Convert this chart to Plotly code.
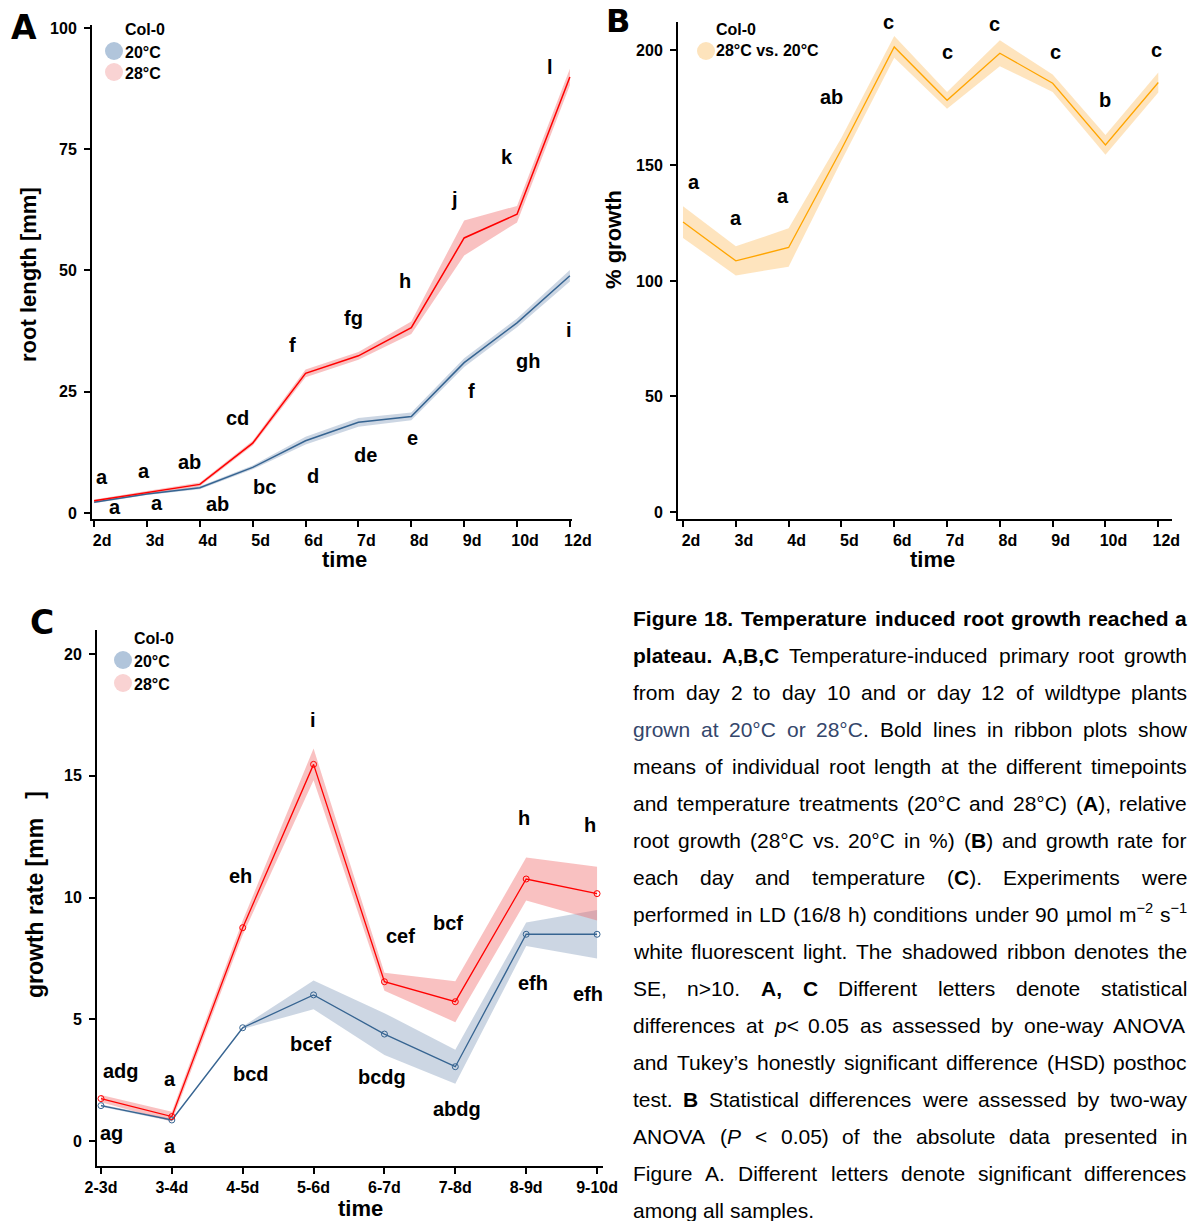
import plotly.graph_objects as go

W, H = 1188, 1221
FONT = "Liberation Sans, Arial, Helvetica, sans-serif"

# ---------------- data ----------------
days_a = ["2d", "3d", "4d", "5d", "6d", "7d", "8d", "9d", "10d", "12d"]
root_20 = [2.2, 3.9, 5.2, 9.4, 14.9, 18.7, 19.9, 31.0, 39.2, 48.9]
root_20_se = [0.2, 0.2, 0.3, 0.4, 0.8, 0.9, 0.8, 0.9, 0.9, 1.2]
root_28 = [2.5, 4.2, 5.9, 14.4, 28.8, 32.4, 38.2, 56.7, 61.6, 89.9]
root_28_se = [0.3, 0.3, 0.4, 0.5, 0.8, 0.8, 1.3, 3.6, 1.7, 1.7]
letters_a_28 = ["a", "a", "ab", "cd", "f", "fg", "h", "j", "k", "l"]
letters_a_20 = ["a", "a", "ab", "bc", "d", "de", "e", "f", "gh", "i"]

rel_growth = [125.5, 108.7, 114.5, 157.0, 201.3, 178.2, 198.6, 185.6, 158.9, 185.9]
rel_growth_se = [6.9, 6.3, 8.3, 5.0, 4.7, 3.6, 5.6, 3.8, 4.3, 4.3]
letters_b = ["a", "a", "a", "ab", "c", "c", "c", "c", "b", "c"]

intervals_c = ["2-3d", "3-4d", "4-5d", "5-6d", "6-7d", "7-8d", "8-9d", "9-10d"]
rate_20 = [1.45, 0.86, 4.65, 6.0, 4.39, 3.05, 8.49, 8.49]
rate_20_se = [0.05, 0.05, 0.05, 0.59, 0.86, 0.7, 0.48, 1.0]
rate_28 = [1.74, 1.0, 8.76, 15.47, 6.54, 5.72, 10.76, 10.16]
rate_28_se = [0.15, 0.2, 0.3, 0.65, 0.37, 0.84, 0.88, 1.1]
letters_c_28 = ["adg", "a", "eh", "i", "cef", "bcf", "h", "h"]
letters_c_20 = ["ag", "a", "bcd", "bcef", "bcdg", "abdg", "efh", "efh"]

# letter label pixel offsets from their data point (style/position only)
off_a_28 = [(8, 24), (-3, 22), (-10, 22), (-15, 25), (-13, 28), (-5, 38), (-6, 47), (-10, 39), (-10, 57), (-20, 10)]
off_a_20 = [(21, -5), (10, -9), (18, -16), (12, -20), (7, -35), (7, -33), (1, -22), (7, -28), (11, -38), (-1, -54)]
off_b = [(11, 40), (0, 43), (-6, 51), (-10, 52), (-6, 25), (0, 48), (-5, 29), (3, 31), (0, 45), (-2, 33)]
off_c_28 = [(20, 28), (-2, 38), (-2, 52), (-1, 44), (16, 46), (-7, 79), (-2, 61), (-7, 69)]
off_c_20 = [(11, -27), (-2, -26), (8, -46), (-3, -49), (-2, -43), (2, -42), (7, -49), (-9, -60)]

caption_lines = [
    [("Figure 18. Temperature induced root growth reached a", "b")],
    [("plateau. A,B,C", "b"), (" Temperature-induced primary root growth", "r")],
    [("from day 2 to day 10 and or day 12 of wildtype plants", "r")],
    [("grown at 20°C or 28°C", "c"), (".  Bold lines in ribbon plots show", "r")],
    [("means of individual root length at the different timepoints", "r")],
    [("and temperature treatments (20°C and 28°C) (", "r"), ("A", "b"), ("), relative", "r")],
    [("root growth (28°C vs. 20°C in %) (", "r"), ("B", "b"), (") and growth rate for", "r")],
    [("each day and temperature (", "r"), ("C", "b"), ("). Experiments were", "r")],
    [("performed in LD (16/8 h) conditions under 90 µmol m", "r"), ("−2", "sup"), (" s", "r"), ("−1", "sup")],
    [("white fluorescent light. The shadowed ribbon denotes the", "r")],
    [("SE, n>10. ", "r"), ("A, C", "b"), (" Different letters denote statistical", "r")],
    [("differences at ", "r"), ("p", "i"), ("< 0.05 as assessed by one-way ANOVA", "r")],
    [("and Tukey’s honestly significant difference (HSD) posthoc", "r")],
    [("test. ", "r"), ("B", "b"), (" Statistical differences were assessed by two-way", "r")],
    [("ANOVA (", "r"), ("P", "i"), (" < 0.05) of the absolute data presented in", "r")],
    [("Figure A. Different letters denote significant differences", "r")],
    [("among all samples.", "r")],
]

# ---------------- helpers ----------------
def pxx(p):
    return p / W


def pxy(p):
    return 1 - p / H


RED = "rgb(255,0,0)"
RED_FILL = "rgba(240,100,100,0.40)"
BLUE = "rgb(54,100,145)"
BLUE_FILL = "rgba(100,130,170,0.33)"
ORANGE = "rgb(255,165,0)"
ORANGE_FILL = "rgba(252,190,100,0.42)"

fig = go.Figure()


def ribbon(x, y, se, fill, xa, ya):
    up = [v + s for v, s in zip(y, se)]
    lo = [v - s for v, s in zip(y, se)]
    fig.add_trace(go.Scatter(x=list(x) + list(x)[::-1], y=up + lo[::-1], fill="toself",
                             fillcolor=fill, line=dict(width=0), mode="lines",
                             hoverinfo="skip", showlegend=False, xaxis=xa, yaxis=ya))


def line(x, y, color, xa, ya, width=1.5, markers=False):
    fig.add_trace(go.Scatter(x=x, y=y, mode="lines+markers" if markers else "lines",
                             line=dict(color=color, width=width),
                             marker=dict(symbol="circle-open", size=6, color=color,
                                         line=dict(width=1, color=color)),
                             hoverinfo="skip", showlegend=False, xaxis=xa, yaxis=ya))


# Panel A
ribbon(days_a, root_20, root_20_se, BLUE_FILL, "x", "y")
ribbon(days_a, root_28, root_28_se, RED_FILL, "x", "y")
line(days_a, root_20, BLUE, "x", "y")
line(days_a, root_28, RED, "x", "y")
# Panel B
ribbon(days_a, rel_growth, rel_growth_se, ORANGE_FILL, "x2", "y2")
line(days_a, rel_growth, ORANGE, "x2", "y2", width=1.3)
# Panel C
ribbon(intervals_c, rate_20, rate_20_se, BLUE_FILL, "x3", "y3")
ribbon(intervals_c, rate_28, rate_28_se, RED_FILL, "x3", "y3")
line(intervals_c, rate_20, BLUE, "x3", "y3", width=1.3, markers=True)
line(intervals_c, rate_28, RED, "x3", "y3", width=1.3, markers=True)


def axis(domain_px, rng, anchor, cats=None, tickvals=None, shift=0, horizontal=True):
    d = dict(showline=True, linecolor="black", linewidth=2, ticks="outside", ticklen=6,
             tickwidth=2, tickcolor="black", showgrid=False, zeroline=False,
             fixedrange=True, anchor=anchor, range=rng, automargin=False,
             tickfont=dict(family=FONT, size=16, color="black", weight="bold"))
    if horizontal:
        d["domain"] = [pxx(domain_px[0]), pxx(domain_px[1])]
        d["type"] = "category"
        d["categoryorder"] = "array"
        d["categoryarray"] = cats
        if shift:
            d["ticklabelshift"] = shift
    else:
        d["domain"] = [pxy(domain_px[1]), pxy(domain_px[0])]
        d["tickvals"] = tickvals
        d["ticklabelstandoff"] = 4
    return d


fig.update_layout(
    template="none",
    xaxis=axis((92, 572), [-0.04, 9.04], "y", cats=days_a, shift=8),
    yaxis=axis((25, 519), [-1.24, 100.6], "x", tickvals=[0, 25, 50, 75, 100], horizontal=False),
    xaxis2=axis((678, 1172), [-0.095, 9.26], "y2", cats=days_a, shift=8),
    yaxis2=axis((22, 519), [-3.03, 212.1], "x2", tickvals=[0, 50, 100, 150, 200], horizontal=False),
    xaxis3=axis((97, 603), [-0.056, 7.084], "y3", cats=intervals_c),
    yaxis3=axis((630, 1166), [-1.03, 20.99], "x3", tickvals=[0, 5, 10, 15, 20], horizontal=False),
)

ann = []
shapes = []
LET = dict(family=FONT, size=20, color="black", weight="bold")


def letters(cats, vals, labs, offs, xr, yr):
    for c, v, lab, (dx, dy) in zip(cats, vals, labs, offs):
        ann.append(dict(x=c, y=v, xref=xr, yref=yr, text=lab, showarrow=False,
                        xshift=dx, yshift=dy, font=LET))


letters(days_a, root_28, letters_a_28, off_a_28, "x", "y")
letters(days_a, root_20, letters_a_20, off_a_20, "x", "y")
letters(days_a, rel_growth, letters_b, off_b, "x2", "y2")
letters(intervals_c, rate_28, letters_c_28, off_c_28, "x3", "y3")
letters(intervals_c, rate_20, letters_c_20, off_c_20, "x3", "y3")


def ptext(text, x, y, size, xanchor="center", angle=0, family=FONT, color="black"):
    ann.append(dict(x=pxx(x), y=pxy(y), xref="paper", yref="paper", text=text,
                    showarrow=False, xanchor=xanchor, yanchor="middle", textangle=angle,
                    font=dict(family=family, size=size, color=color, weight="bold")))


# axis titles
ptext("root length [mm]", 28, 275, 22, angle=-90)
ptext("time", 344, 559, 22)
ptext("% growth", 614, 240, 22, angle=-90)
ptext("time", 932, 559, 22)
ptext("growth rate [mm   ]", 35, 895, 23, angle=-90)
ptext("time", 360, 1208, 22)

# panel letters
PFONT = "DejaVu Sans, Liberation Sans, sans-serif"
ptext("A", 24, 27, 33, family=PFONT)
ptext("B", 618, 21, 32, family=PFONT)
ptext("C", 42, 622, 33, family=PFONT)


# legends
def circle(x, y, color, r=9):
    shapes.append(dict(type="circle", xref="paper", yref="paper", xsizemode="pixel",
                       ysizemode="pixel", xanchor=pxx(x), yanchor=pxy(y),
                       x0=-r, x1=r, y0=-r, y1=r, fillcolor=color, line=dict(width=0)))


LEG_BLUE = "#b1c5db"
LEG_RED = "#f9d3d3"
LEG_OR = "#fde3bc"

ptext("Col-0", 123, 30, 16, xanchor="left")
circle(114, 51, LEG_BLUE)
ptext("20°C", 123, 52, 16, xanchor="left")
circle(114, 72, LEG_RED)
ptext("28°C", 123, 73, 16, xanchor="left")

ptext("Col-0", 714, 30, 16, xanchor="left")
circle(706, 51, LEG_OR)
ptext("28°C vs. 20°C", 714, 51, 16, xanchor="left")

ptext("Col-0", 132, 638, 16, xanchor="left")
circle(123, 660, LEG_BLUE)
ptext("20°C", 132, 661, 16, xanchor="left")
circle(123, 683, LEG_RED)
ptext("28°C", 132, 684, 16, xanchor="left")

# ---------------- caption (justified, word by word) ----------------
REG = {" ": 278, "%": 889, "(": 333, ")": 333, ",": 278, "-": 333, ".": 278, "/": 278, ":": 278,
       "<": 584, ">": 584, "°": 400, "µ": 576, "’": 222, "−": 584, "'": 191,
       "A": 667, "B": 667, "C": 722, "D": 722, "E": 667, "F": 611, "G": 778, "H": 722, "I": 278,
       "J": 500, "K": 667, "L": 556, "M": 833, "N": 722, "O": 778, "P": 667, "Q": 778, "R": 722,
       "S": 667, "T": 611, "U": 722, "V": 667, "W": 944, "X": 667, "Y": 667, "Z": 611,
       "a": 556, "b": 556, "c": 500, "d": 556, "e": 556, "f": 278, "g": 556, "h": 556, "i": 222,
       "j": 222, "k": 500, "l": 222, "m": 833, "n": 556, "o": 556, "p": 556, "q": 556, "r": 333,
       "s": 500, "t": 278, "u": 556, "v": 500, "w": 722, "x": 500, "y": 500, "z": 500}
BOLD = {" ": 278, "%": 889, "(": 333, ")": 333, ",": 278, "-": 333, ".": 278, "/": 278, ":": 333,
        "A": 722, "B": 722, "C": 722, "D": 722, "E": 667, "F": 611, "G": 778, "H": 722, "I": 278,
        "L": 611, "N": 722, "O": 778, "P": 667, "S": 667, "T": 611,
        "a": 556, "b": 611, "c": 556, "d": 611, "e": 556, "f": 333, "g": 611, "h": 611, "i": 278,
        "j": 278, "k": 556, "l": 278, "m": 889, "n": 611, "o": 611, "p": 611, "q": 611, "r": 389,
        "s": 556, "t": 333, "u": 611, "v": 556, "w": 778, "x": 556, "y": 556, "z": 500}

CAP_SIZE = 21
CAP_L, CAP_R = 631, 1185
CAP_Y0, CAP_DY = 620, 37
CAP_BLUE = "#34466b"


def char_w(ch, st):
    if st == "b":
        w = BOLD.get(ch, 556 if ch.isdigit() else 600)
    else:
        w = REG.get(ch, 556)
    if st == "sup":
        w *= 0.7
    return w * CAP_SIZE / 1000.0


def esc(s):
    return s.replace("&", "&amp;").replace("<", "&lt;").replace(">", "&gt;")


def word_html(chars):
    runs = []
    for ch, st in chars:
        if runs and runs[-1][1] == st:
            runs[-1][0] += ch
        else:
            runs.append([ch, st])
    out = ""
    for txt, st in runs:
        t = esc(txt)
        if st == "b":
            out += "<b>" + t + "</b>"
        elif st == "i":
            out += "<i>" + t + "</i>"
        elif st == "c":
            out += "<span style='color:" + CAP_BLUE + "'>" + t + "</span>"
        elif st == "sup":
            out += "<sup>" + t + "</sup>"
        else:
            out += t
    return out


for k, segs in enumerate(caption_lines):
    chars = [(ch, st) for txt, st in segs for ch in txt]
    words, cur = [], []
    for ch, st in chars:
        if ch == " ":
            if cur:
                words.append(cur)
                cur = []
        else:
            cur.append((ch, st))
    if cur:
        words.append(cur)
    widths = [sum(char_w(c, s) for c, s in w) for w in words]
    last = k == len(caption_lines) - 1
    if last or len(words) == 1:
        gap = char_w(" ", "r")
    else:
        gap = (CAP_R - CAP_L - sum(widths)) / (len(words) - 1)
    x = CAP_L
    ybot = CAP_Y0 + CAP_DY * k + 12
    for w, wd in zip(words, widths):
        ann.append(dict(x=pxx(x), y=pxy(ybot), xref="paper", yref="paper", text=word_html(w),
                        showarrow=False, xanchor="left", yanchor="bottom",
                        font=dict(family=FONT, size=CAP_SIZE, color="black")))
        x += wd + gap

fig.update_layout(
    width=W, height=H, margin=dict(l=0, r=0, t=0, b=0, pad=0),
    paper_bgcolor="white", plot_bgcolor="white",
    showlegend=False, annotations=ann, shapes=shapes,
    font=dict(family=FONT, color="black"),
)

fig.write_html("out.html", config={"displayModeBar": False, "staticPlot": True},
               post_script="document.body.style.margin='0px';")
